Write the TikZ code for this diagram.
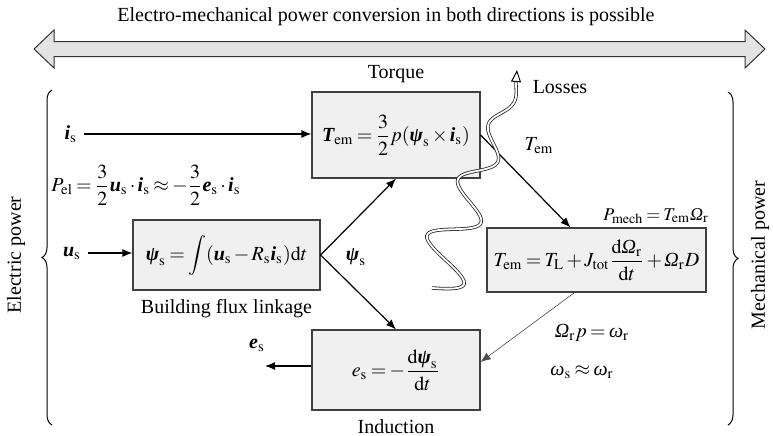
\documentclass[tikz,border=0pt]{standalone}
\usepackage{amsmath}
\usepackage{mathptmx}
\usepackage{fontspec}
\setmainfont{Liberation Serif}
\usepackage{tikz}
\usetikzlibrary{arrows.meta, positioning, decorations.pathreplacing}

\newcommand{\vect}[1]{\mbox{\bfseries\itshape #1}}
\newcommand{\grk}[1]{\mbox{\itshape #1}}
\thickmuskip=3mu plus 2mu
\medmuskip=2mu plus 1mu

\begin{document}
\begin{tikzpicture}[x=0.5pt, y=-0.5pt,
    box/.style={rectangle, draw=black!75, fill=gray!12, line width=0.6pt,
        inner sep=0pt},
    arr/.style={-{Latex[length=5pt, width=4pt]}, line width=0.6pt},
    brc/.style={decorate, decoration={brace, amplitude=5pt}, line width=0.5pt}
]
\useasboundingbox (0,0) rectangle (773,435);

% power flow in both directions
\draw[draw=black!80, fill=gray!22, line width=0.5pt]
    (34,49) -- (54,30) -- (54,41.5) -- (745,41.5) -- (745,30) -- (765,49)
    -- (745,68) -- (745,56.5) -- (54,56.5) -- (54,68) -- cycle;
\node (head) at (386,17) {Electro-mechanical power conversion in both directions is possible};

% sides
\draw[brc] (52,425) -- (52,90);
\draw[brc] (728,92) -- (728,425);
\node[rotate=90] (elec) at (16,255) {Electric power};
\node[rotate=90] (mechp) at (760,255) {Mechanical power};

% blocks
\node[box, minimum width=84pt, minimum height=43pt] (torque) at (396,135)
    {$\displaystyle \vect{T}_{\mathrm{em}}=\frac{3}{2}p(\vect{ψ}_{\mathrm{s}}\times\vect{i}_{\mathrm{s}})$};
\node[above=1pt of torque] (torquelbl) {Torque};
\node[box, minimum width=93.5pt, minimum height=35pt] (flux) at (226.5,255)
    {$\displaystyle \vect{ψ}_{\mathrm{s}}=\int(\vect{u}_{\mathrm{s}}-R_{\mathrm{s}}\vect{i}_{\mathrm{s}})\mathrm{d}t$};
\node[below=1pt of flux] (fluxlbl) {Building flux linkage};
\node[box, minimum width=109.5pt, minimum height=32pt] (dyn) at (596.5,260)
    {$\displaystyle T_{\mathrm{em}}=T_{\mathrm{L}}+J_{\mathrm{tot}}\frac{\mathrm{d}\grk{Ω}_{\mathrm{r}}}{\mathrm{d}t}+\grk{Ω}_{\mathrm{r}}D$};
\node[box, minimum width=84pt, minimum height=40pt] (induct) at (396,370)
    {$\displaystyle e_{\mathrm{s}}=-\frac{\mathrm{d}\vect{ψ}_{\mathrm{s}}}{\mathrm{d}t}$};
\node[below=1pt of induct] (inductlbl) {Induction};

% labels
\node[anchor=east] (isl) at (84,134) {$\vect{i}_{\mathrm{s}}$};
\node[anchor=east] (usl) at (88,253) {$\vect{u}_{\mathrm{s}}$};
\node (esl) at (257,345) {$\vect{e}_{\mathrm{s}}$};
\coordinate (esend) at (265,366);
\node (pel) at (146,185)
    {$\displaystyle P_{\mathrm{el}}=\frac{3}{2}\vect{u}_{\mathrm{s}}\cdot\vect{i}_{\mathrm{s}}\approx-\frac{3}{2}\vect{e}_{\mathrm{s}}\cdot\vect{i}_{\mathrm{s}}$};
\node (psil) at (356,257) {$\vect{ψ}_{\mathrm{s}}$};
\node (teml) at (539,146) {$T_{\mathrm{em}}$};
\node (loss) at (560,87) {Losses};
\node[font=\small] (pmech) at (656,216) {$P_{\mathrm{mech}}=T_{\mathrm{em}}\grk{Ω}_{\mathrm{r}}$};
\node (speed) at (592,333) {$\grk{Ω}_{\mathrm{r}}p=\grk{ω}_{\mathrm{r}}$};
\node (slip) at (582,372) {$\grk{ω}_{\mathrm{s}}\approx\grk{ω}_{\mathrm{r}}$};

% connectors
\draw[arr] (isl.east) -- (isl.east -| torque.west);
\draw[arr] (usl.east) -- (usl.east -| flux.west);
\draw[arr] (flux.east) -- (torque.south);
\draw[arr] (flux.east) -- (induct.north);
\draw[arr] (torque.east) -- ([xshift=-13pt]dyn.north);
\draw[arr, line width=0.3pt, draw=black!70] ([xshift=-11pt]dyn.south) -- ([yshift=4pt]induct.east);
\draw[arr] ([yshift=2pt]induct.west) -- (esend);

% losses
\coordinate (lossend) at (516,82);
\coordinate (losstip) at (517,70);
\draw[line width=0.4pt, draw=black!85, double=white, double distance=0.9pt]
    plot[smooth, domain=0:1, samples=140, variable=\t]
    ({432+84*\t+(26*(1-\t)+4)*sin(1260*\t)*0.926},
     {288-206*\t+(26*(1-\t)+4)*sin(1260*\t)*0.378});
\draw[-{Triangle[open, length=6pt, width=5pt]}, line width=0.5pt] (lossend) -- (losstip);
\end{tikzpicture}
\end{document}
